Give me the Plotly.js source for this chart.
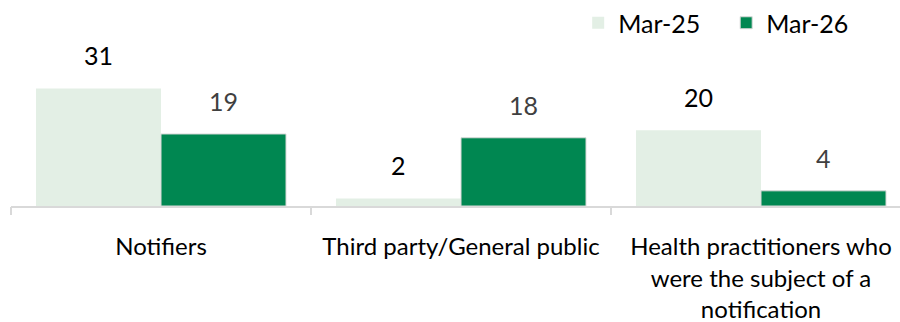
<!DOCTYPE html>
<html>
<head>
<meta charset="utf-8">
<script src="https://cdn.plot.ly/plotly-3.0.1.min.js"></script>
<style>html,body{margin:0;padding:0;background:#fff;}#chart{width:900px;height:322px;}</style>
</head>
<body>
<div id="chart"></div>
<script>
const categories = ["Notifiers", "Third party/General public", "Health practitioners who<br>were the subject of a<br>notification"];
const seriesNames = ["Mar-25", "Mar-26"];
const mar25 = [31, 2, 20];
const mar26 = [19, 18, 4];

const FONT = "Lato, 'Open Sans', sans-serif";
const light = "#e3efe5";
const dark = "#008751";
const idx = categories.map((c, i) => i);

const traces = [
  {type: "bar", name: seriesNames[0], x: idx, y: mar25,
   marker: {color: light, line: {width: 0}}, hoverinfo: "none"},
  {type: "bar", name: seriesNames[1], x: idx, y: mar26,
   marker: {color: dark, line: {color: "#d9d9d9", width: 1}}, hoverinfo: "none"}
];

const annotations = [];
[mar25, mar26].forEach((vals, s) => {
  vals.forEach((v, i) => {
    annotations.push({
      x: i, y: v, xref: "x", yref: "y",
      text: String(v), showarrow: false,
      xanchor: "center", yanchor: "bottom",
      xshift: s === 0 ? -62.5 : 62.5, yshift: 16,
      font: {family: FONT, size: 25, color: s === 0 ? "#000000" : "#404040"}
    });
  });
});

const layout = {
  width: 900, height: 322,
  margin: {l: 11, r: 0, t: 50, b: 116},
  paper_bgcolor: "#ffffff", plot_bgcolor: "#ffffff",
  barmode: "group", bargap: 0.1667, bargroupgap: 0,
  showlegend: true,
  legend: {orientation: "h", x: 0.638, xanchor: "left", y: 1.192, yanchor: "middle",
           entrywidth: 103, entrywidthmode: "pixels",
           font: {family: FONT, size: 25, color: "#000"}, traceorder: "normal"},
  xaxis: {
    type: "linear", tickmode: "array", tickvals: idx, ticktext: categories,
    range: [-0.5, -0.5 + 889 / 300],
    showline: true, linecolor: "#d9d9d9", linewidth: 1.5,
    ticks: "", showgrid: false, zeroline: false,
    tickfont: {family: FONT, size: 24, color: "#000"},
    ticklabelstandoff: 19
  },
  xaxis2: {overlaying: "x", range: [-0.5, -0.5 + 889 / 300], tickmode: "array",
    tickvals: [-0.5, 0.5, 1.5, 2.5], ticks: "outside", ticklen: 8, tickcolor: "#d9d9d9",
    tickwidth: 1.5, showticklabels: false, showgrid: false, zeroline: false, showline: false,
    anchor: "y", side: "bottom"},
  yaxis: {range: [0, 156 / 3.84], visible: false, showgrid: false, zeroline: false},
  annotations: annotations,
  font: {family: FONT}
};

// invisible trace to activate the boundary-tick axis
traces.push({type: "scatter", x: [0], y: [0], xaxis: "x2", mode: "markers",
  marker: {opacity: 0}, showlegend: false, hoverinfo: "none"});

Plotly.newPlot("chart", traces, layout, {displayModeBar: false, staticPlot: true});
</script>
</body>
</html>
